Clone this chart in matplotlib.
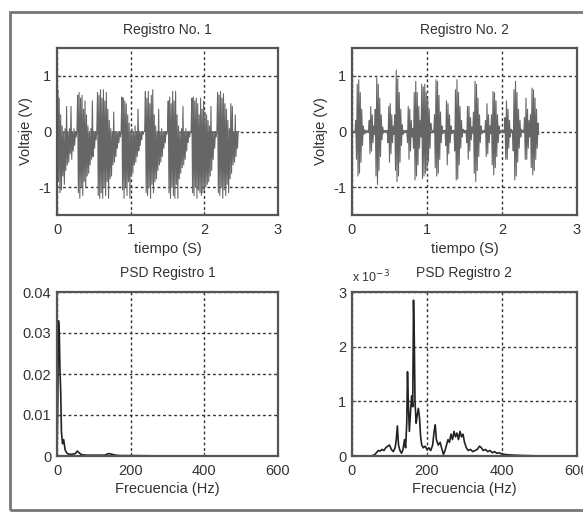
import matplotlib
matplotlib.use("Agg")
import matplotlib.pyplot as plt
from matplotlib.patches import Rectangle
import numpy as np

plt.rcParams['font.family'] = ['Liberation Sans', 'DejaVu Sans']
plt.rcParams['axes.unicode_minus'] = False

# ---- data ----
dt = 0.01  # sample spacing (s) used for the hand-read waveforms

# Registro No. 1 (V), one value every dt from t = 0
reg1 = [0.0, 0.75, -0.9, 0.6, -1.1, 0.3, -1.05, 0.1, -0.8, 0.0,
        -0.95, 0.05, -0.7, 0.45, -0.6, 0.0, -0.55, 0.05, -0.4, 0.45,
        -0.5, 0.0, -0.35, 0.05, -0.25, 0.0, -0.1, 0.0, 0.65, -1.1,
        0.7, -1.2, 0.6, -1.0, 0.65, -1.15, 0.4, -0.9, 0.55, -1.0,
        0.3, -0.8, 0.1, -0.75, 0.0, -0.6, 0.05, -0.5, 0.55, -0.45,
        0.0, -0.3, 0.0, -0.15, 0.0, 0.7, -1.15, 0.65, -1.2, 0.75,
        -1.1, 0.6, -1.2, 0.75, -1.0, 0.55, -1.15, 0.7, -0.9, 0.4,
        -1.2, 0.2, -0.85, 0.05, -0.8, 0.0, -0.6, 0.35, -0.55, 0.0,
        -0.45, 0.0, -0.3, 0.0, -0.2, 0.0, -0.1, 0.0, 0.62, -1.05,
        0.6, -1.2, 0.55, -1.0, 0.5, -1.15, 0.3, -0.9, 0.15, -1.2,
        0.0, -0.8, 0.05, -0.75, 0.0, -0.6, 0.1, -0.55, 0.0, -0.45,
        0.4, -0.35, 0.0, -0.25, 0.0, -0.15, 0.0, -0.05, 0.0, 0.0,
        0.72, -1.1, 0.6, -1.15, 0.72, -1.0, 0.5, -1.2, 0.65, -0.95,
        0.75, -1.1, 0.3, -0.9, 0.1, -0.85, 0.0, -0.7, 0.4, -0.6,
        0.0, -0.55, 0.05, -0.45, 0.0, -0.3, 0.0, -0.2, 0.0, -0.05,
        0.0, 0.55, -1.1, 0.62, -1.2, 0.5, -1.0, 0.72, -1.15, 0.55,
        -1.2, 0.72, -0.95, 0.3, -1.2, 0.1, -0.85, 0.0, -0.75, 0.05,
        -0.65, 0.45, -0.6, 0.0, -0.5, 0.05, -0.35, 0.0, -0.2, 0.0,
        -0.1, 0.0, 0.0, 0.6, -1.1, 0.62, -1.15, 0.55, -1.0, 0.6,
        -1.2, 0.5, -1.05, 0.3, -1.1, 0.6, -1.15, 0.4, -1.1, 0.55,
        -1.05, 0.35, -1.0, 0.3, -0.95, 0.2, -0.9, 0.1, -0.8, 0.45,
        -0.7, 0.0, -0.5, 0.0, -0.3, 0.0, -0.1, 0.0, 0.7, -1.1,
        0.65, -1.15, 0.72, -1.0, 0.6, -1.2, 0.68, -1.05, 0.5, -1.15,
        0.4, -0.95, 0.2, -1.1, 0.05, -0.85, 0.5, -0.75, 0.45, -0.6,
        0.0, -0.55, 0.3, -0.45, 0.0, -0.3, 0.0, 0.0]

# Registro No. 2 (V), one value every dt from t = 0
reg2 = [0.0, 0.0, 0.0, 0.0, 0.0,
        0.2, -0.5, 0.85, -0.8, 0.93, -0.75, 0.7, -0.55, 0.4, -0.25,
        0.1, -0.05, 0.03, -0.03, 0.02, -0.02, 0.02, -0.02,
        0.2, -0.4, 0.45, -0.35, 0.3, -0.2, 0.1, -0.05,
        0.4, -0.8, 0.96, -0.95, 0.85, -0.7, 0.6, -0.45, 0.3, -0.15, 0.08,
        -0.03, 0.02, -0.02, 0.02, -0.02, 0.02,
        -0.2, 0.45, -0.55, 0.5, -0.4, 0.3, -0.2, 0.1, -0.05,
        0.3, -0.7, 1.1, -0.9, 0.95, -0.8, 0.7, -0.55, 0.4, -0.25, 0.12, -0.05,
        0.02, -0.02, 0.02, -0.02, 0.02,
        -0.2, 0.45, -0.5, 0.4, -0.35, 0.2, -0.1, 0.05,
        -0.3, 0.7, -0.87, 0.9, -0.8, 0.7, -0.6, 0.45, -0.3, 0.2, -0.1,
        0.85, -0.85, 0.8, -0.8, 0.85, -0.75, 0.7, -0.7, 0.6, -0.55, 0.4, -0.3, 0.15,
        0.05, -0.02, 0.02, -0.02,
        0.3, -0.65, 0.93, -0.8, 0.9, -0.75, 0.65, -0.5, 0.35, -0.2, 0.1, -0.04,
        0.02, -0.02, 0.02,
        -0.25, 0.55, -0.6, 0.5, -0.4, 0.3, -0.2, 0.1, -0.04,
        0.02, -0.02, 0.02,
        -0.35, 0.75, -0.87, 0.93, -0.85, 0.7, -0.6, 0.45, -0.3, 0.2, -0.1, 0.04,
        -0.02, 0.02, -0.02, 0.02,
        -0.2, 0.45, -0.5, 0.45, -0.35, 0.25, -0.15, 0.08, -0.03,
        0.35, -0.75, 0.9, -0.9, 0.85, -0.7, 0.6, -0.45, 0.3, -0.2, 0.1, -0.04,
        0.02, -0.02, 0.02, -0.02,
        0.2, -0.45, 0.5, -0.4, 0.3, -0.2, 0.1, -0.04,
        0.3, -0.6, 0.72, -0.78, 0.7, -0.65, 0.55, -0.45, 0.3, -0.2, 0.1, -0.04,
        0.02, -0.02, 0.02, -0.02, 0.02, -0.02,
        0.25, -0.5, 0.55, -0.5, 0.4, -0.3, 0.2, -0.1, 0.04,
        -0.02, 0.02,
        -0.35, 0.75, -0.87, 0.9, -0.8, 0.7, -0.55, 0.4, -0.3, 0.2, -0.1, 0.04,
        -0.02, 0.02, -0.02,
        0.25, -0.5, 0.6, -0.5, 0.4, -0.3, 0.2, -0.1,
        0.3, -0.65, 0.78, -0.78, 0.75, -0.7, 0.6, -0.5, 0.4, -0.3, 0.15, -0.05]

# PSD Registro 1
freq1 = [0, 2, 4, 6, 8, 10, 12, 15, 18, 22, 26, 30, 40, 50, 55, 60, 65, 70,
         80, 100, 130, 140, 150, 160, 170, 200, 300, 400, 500]
psd1 = [0.0, 0.012, 0.033, 0.031, 0.021, 0.016, 0.006, 0.003, 0.004, 0.0015,
        0.0008, 0.0005, 0.0004, 0.0006, 0.0012, 0.0008, 0.0004, 0.0003,
        0.0002, 0.0002, 0.0002, 0.0006, 0.0004, 0.0002, 0.0001, 0.0001,
        0.0, 0.0, 0.0]

# PSD Registro 2 (units of 1e-3)
freq2 = [0, 50, 60, 65, 70, 75, 80, 85, 90, 95, 100, 105, 110, 115, 118, 121,
         124, 128, 132, 136, 140, 143, 146, 148, 150, 153, 156, 159, 162, 164,
         166, 168, 171, 174, 177, 180, 183, 186, 190, 195, 200, 205, 210, 215,
         219, 222, 225, 230, 235, 240, 244, 248, 252, 256, 260, 264, 268, 272,
         276, 280, 284, 288, 292, 296, 300, 305, 310, 316, 322, 328, 334, 340,
         345, 350, 356, 362, 368, 374, 380, 386, 392, 398, 405, 420, 450, 480,
         500]
psd2_e3 = [0.0, 0.0, 0.02, 0.06, 0.1, 0.09, 0.12, 0.1, 0.15, 0.18, 0.2, 0.12,
           0.08, 0.15, 0.3, 0.55, 0.2, 0.1, 0.05, 0.12, 0.3, 0.15, 0.6, 1.54,
           1.0, 0.45, 0.8, 1.1, 0.9, 2.85, 2.2, 1.0, 0.6, 0.75, 0.87, 0.7,
           0.35, 0.2, 0.15, 0.18, 0.12, 0.15, 0.1, 0.2, 0.45, 0.57, 0.3, 0.2,
           0.25, 0.12, 0.03, 0.1, 0.2, 0.3, 0.25, 0.4, 0.3, 0.45, 0.35, 0.42,
           0.3, 0.45, 0.35, 0.4, 0.25, 0.15, 0.1, 0.12, 0.08, 0.1, 0.12, 0.18,
           0.15, 0.1, 0.12, 0.08, 0.1, 0.06, 0.08, 0.05, 0.06, 0.04, 0.03,
           0.02, 0.01, 0.005, 0.0]

W, H = 583, 512
fig = plt.figure(figsize=(W / 100, H / 100), dpi=100, facecolor='white')
TXT = '#333333'

def px_axes(l, t, r, b):
    return fig.add_axes([l / W, 1 - b / H, (r - l) / W, (b - t) / H])

def style(ax, xlim, ylim, xticks, yticks):
    ax.set_xlim(xlim)
    ax.set_ylim(ylim)
    ax.set_xticks(xticks)
    ax.set_yticks(yticks)
    ax.grid(True, color='#333333', linestyle=(0, (2, 2)), linewidth=1.0)
    ax.tick_params(direction='in', length=3, labelsize=10.5, color='#555555',
                   labelcolor=TXT)
    ax.tick_params(axis='x', pad=6)
    ax.tick_params(axis='y', pad=4)
    for s in ax.spines.values():
        s.set_color('#555555')
        s.set_linewidth(1.6)

t1 = np.arange(len(reg1)) * dt
t2 = np.arange(len(reg2)) * dt

ax1 = px_axes(57, 48, 278, 215)
ax1.plot(t1, reg1, color='#666666', linewidth=0.8)
style(ax1, (0, 3), (-1.5, 1.5), [0, 1, 2, 3], [-1, 0, 1])
ax1.set_title('Registro No. 1', fontsize=10, color=TXT, pad=10)
ax1.set_xlabel('tiempo (S)', fontsize=10.5, color=TXT, labelpad=3)
ax1.set_ylabel('Voltaje (V)', fontsize=10.5, color=TXT, labelpad=4)

ax2 = px_axes(352, 48, 577, 215)
ax2.plot(t2, reg2, color='#666666', linewidth=0.8)
style(ax2, (0, 3), (-1.5, 1.5), [0, 1, 2, 3], [-1, 0, 1])
ax2.set_title('Registro No. 2', fontsize=10, color=TXT, pad=10)
ax2.set_xlabel('tiempo (S)', fontsize=10.5, color=TXT, labelpad=3)
ax2.set_ylabel('Voltaje (V)', fontsize=10.5, color=TXT, labelpad=4)

ax3 = px_axes(57, 292, 278, 456)
ax3.plot(freq1, psd1, color='#222222', linewidth=1.2)
style(ax3, (0, 600), (0, 0.04), [0, 200, 400, 600], [0, 0.01, 0.02, 0.03, 0.04])
ax3.set_yticklabels(['0', '0.01', '0.02', '0.03', '0.04'])
ax3.set_title('PSD Registro 1', fontsize=10, color=TXT, pad=11)
ax3.set_xlabel('Frecuencia (Hz)', fontsize=10.5, color=TXT, labelpad=3)

ax4 = px_axes(352, 292, 577, 456)
ax4.plot(freq2, psd2_e3, color='#222222', linewidth=1.2)
style(ax4, (0, 600), (0, 3), [0, 200, 400, 600], [0, 1, 2, 3])
ax4.set_title('PSD Registro 2', fontsize=10, color=TXT, pad=11)
ax4.set_xlabel('Frecuencia (Hz)', fontsize=10.5, color=TXT, labelpad=3)
ax4.text(0.0, 1.09, 'x 10$^{-3}$', transform=ax4.transAxes, fontsize=9,
         color=TXT, ha='left', va='center')

# outer frame of the scanned figure
fig.patches.append(Rectangle((10 / W, 1 - 510 / H), 1.2, (510 - 12) / H,
                             transform=fig.transFigure, fill=False,
                             edgecolor='#777777', linewidth=2.0))

fig.savefig('out.png', dpi=100, facecolor='white')
